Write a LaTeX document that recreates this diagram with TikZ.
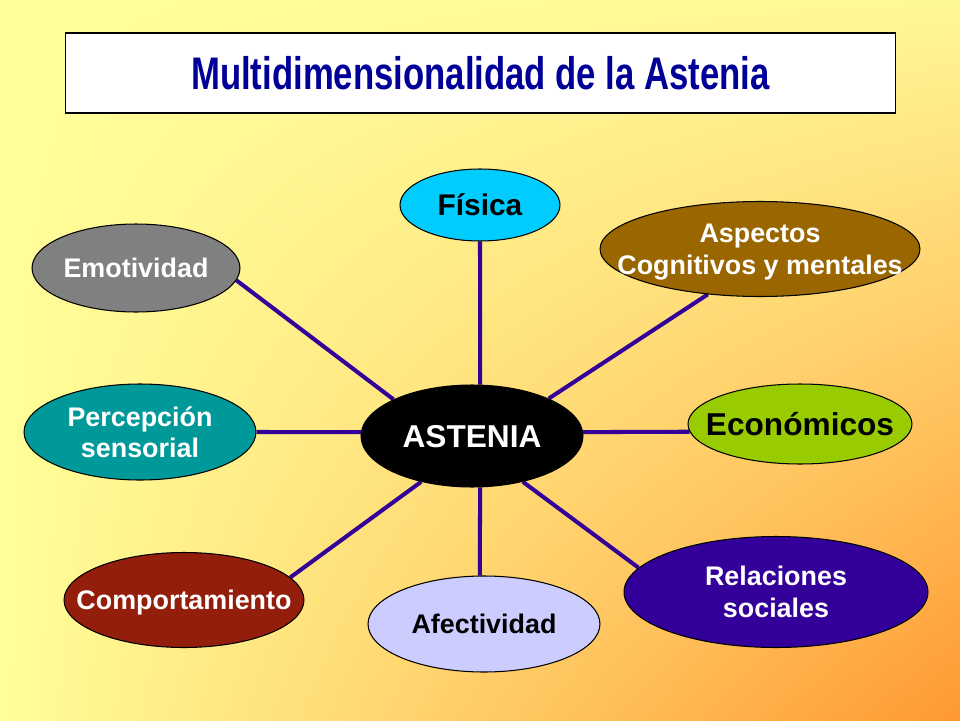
\documentclass[tikz,border=0pt]{standalone}
\usepackage{fontspec}
\setmainfont{Liberation Sans}
\newfontfamily\narrowfont[FakeStretch=0.76]{Liberation Sans}
\usepackage{tikz}
\usetikzlibrary{shapes.geometric,backgrounds,shadings}

\definecolor{bgyellow}{RGB}{255,255,153}
\definecolor{bgtopright}{RGB}{255,248,150}
\definecolor{bgorange}{RGB}{255,152,50}
\definecolor{titleblue}{RGB}{0,0,153}
\definecolor{linkblue}{RGB}{51,0,153}
\definecolor{fisicafill}{RGB}{0,204,255}
\definecolor{aspectosfill}{RGB}{153,102,0}
\definecolor{emofill}{RGB}{128,128,128}
\definecolor{percepfill}{RGB}{0,153,153}
\definecolor{econfill}{RGB}{153,204,0}
\definecolor{compfill}{RGB}{148,30,12}
\definecolor{afectfill}{RGB}{204,204,255}
\definecolor{relfill}{RGB}{51,0,153}

\begin{document}
\begin{tikzpicture}[x=0.02cm, y=-0.02cm,
	blob/.style={ellipse, draw=black, line width=0.6pt, inner xsep=-0.7cm, inner ysep=0pt, text depth=0pt, align=center, text=white, font=\fontsize{15.3}{18}\selectfont\bfseries},
	big/.style={font=\fontsize{18}{21}\selectfont\bfseries},
	link/.style={draw=linkblue, line width=2.3pt}]

	\useasboundingbox (0,0) rectangle (960,720);

	\node[draw, line width=0.6pt, fill=white, inner sep=0pt, minimum width=16.62cm, minimum height=1.6cm, text=titleblue, font=\narrowfont\fontsize{26}{30}\selectfont\bfseries] (title) at (480.5,73) {Multidimensionalidad de la Astenia};

	\node[blob, big, fill=black, minimum width=4.44cm, minimum height=2.04cm] (astenia) at (472,436) {ASTENIA};

	\node[blob, fill=fisicafill, text=black, font=\fontsize{17}{20}\selectfont\bfseries, minimum width=3.2cm, minimum height=1.44cm] (fisica) at (480,205) {Física};
	\node[blob, fill=aspectosfill, minimum width=6.4cm, minimum height=1.9cm] (aspectos) at (760,249) {Aspectos\\Cognitivos y mentales};
	\node[blob, fill=emofill, minimum width=4.16cm, minimum height=1.76cm] (emo) at (136,268) {Emotividad};
	\node[blob, fill=percepfill, minimum width=4.64cm, minimum height=1.92cm] (percep) at (140,432) {Percepción\\sensorial};
	\node[blob, big, fill=econfill, text=black, minimum width=4.48cm, minimum height=1.6cm] (econ) at (800,424) {Económicos};
	\node[blob, fill=compfill, minimum width=4.8cm, minimum height=1.9cm] (comp) at (184,600) {Comportamiento};
	\node[blob, fill=afectfill, text=black, minimum width=4.64cm, minimum height=1.92cm] (afect) at (484,624) {Afectividad};
	\node[blob, fill=relfill, minimum width=6.08cm, minimum height=2.22cm] (rel) at (776,592) {Relaciones\\sociales};

	% background and spokes behind the ellipses
	\begin{scope}[on background layer]
		\shade[upper left=bgyellow, lower left=bgyellow, upper right=bgtopright, lower right=bgorange] (0,0) rectangle (960,720);

		\draw[link] (fisica.south) -- (astenia.81);
		\draw[link] (astenia.26) -- (aspectos.-139);
		\draw[link] (astenia.155) -- (emo.-7);
		\draw[link] (percep.east) -- (astenia.178);
		\draw[link] (astenia.2) -- (econ.184);
		\draw[link] (astenia.-138) -- (comp.12);
		\draw[link] (astenia.-81) -- (afect.95);
		\draw[link] (astenia.-42) -- (rel.170);
	\end{scope}

\end{tikzpicture}
\end{document}
